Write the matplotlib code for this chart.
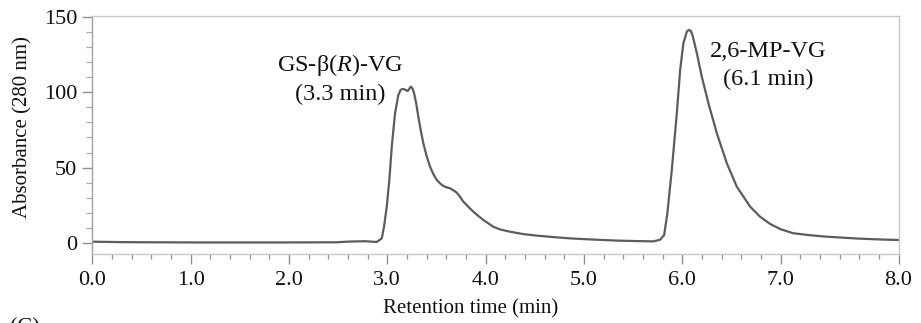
import matplotlib
matplotlib.use("Agg")
import matplotlib.pyplot as plt
from matplotlib.ticker import MultipleLocator, FixedLocator

plt.rcParams['font.family'] = ['Liberation Serif', 'DejaVu Serif']
plt.rcParams['mathtext.fontset'] = 'custom'
plt.rcParams['mathtext.rm'] = 'Liberation Serif'
plt.rcParams['mathtext.it'] = 'Liberation Serif:italic'

# Chromatogram
time_min = [0.0, 0.3, 0.587, 1.0, 1.5, 2.0, 2.489, 2.622, 2.774, 2.893, 2.944,
            2.967, 2.995, 3.021, 3.046, 3.079, 3.113, 3.135, 3.148, 3.164, 3.19,
            3.209, 3.225, 3.239, 3.255, 3.273, 3.295, 3.316, 3.34, 3.367, 3.40,
            3.435, 3.47, 3.504, 3.54, 3.571, 3.60, 3.639, 3.67, 3.707, 3.74,
            3.774, 3.826, 3.876, 3.93, 3.978, 4.079, 4.15, 4.250, 4.38, 4.521,
            4.7, 4.859, 5.0, 5.198, 5.35, 5.538, 5.707, 5.775, 5.816, 5.849,
            5.894, 5.945, 5.979, 6.012, 6.047, 6.062, 6.073, 6.088, 6.104, 6.149,
            6.199, 6.267, 6.352, 6.454, 6.555, 6.691, 6.792, 6.894, 7.0, 7.131,
            7.3, 7.471, 7.65, 7.810, 8.0, 8.2]
absorbance = [0.7, 0.4, 0.3, 0.2, 0.2, 0.2, 0.3, 0.8, 1.0, 0.5, 2.9,
              10.6, 24.0, 41.7, 63.9, 86.1, 98.3, 101.5, 102.1, 102.3, 101.5,
              100.9, 102.5, 103.8, 102.8, 99.4, 92.5, 83.8, 75.0, 66.1, 57.8,
              50.6, 45.5, 41.7, 39.3, 37.7, 36.9, 36.2, 35.0, 33.3, 30.6,
              27.3, 23.8, 20.6, 17.6, 15.1, 10.6, 8.8, 7.3, 5.8, 4.7,
              3.7, 2.9, 2.4, 1.8, 1.4, 1.1, 0.9, 2.0, 5.1, 19.6,
              48.4, 86.1, 114.9, 132.7, 140.4, 141.3, 141.5, 140.8, 138.2, 126.0,
              110.4, 92.7, 72.8, 52.8, 37.3, 24.0, 17.3, 12.5, 9.0, 6.3,
              5.0, 4.0, 3.3, 2.7, 2.2, 1.8]

xtick_pos = [0, 1, 2, 3, 4, 5, 6, 7, 8.2]
xtick_labels = ["0.0", "1.0", "2.0", "3.0", "4.0", "5.0", "6.0", "7.0", "8.0"]
ytick_pos = [0, 50, 100, 150]

peak_labels = [("GS-β($\\mathit{R}$)-VG", "(3.3 min)"), ("2,6-MP-VG", "(6.1 min)")]
label_x = [2.52, 6.87]
label_y1 = [114.0, 123.4]
label_y2 = [95.0, 105.0]

fig = plt.figure(figsize=(9.21, 3.23), dpi=100)
ax = fig.add_axes([0.1002, 0.2136, 0.8754, 0.7369])

ax.plot(time_min, absorbance, color='#5c5c5c', lw=1.6, solid_joinstyle='round')

ax.set_xlim(0, 8.2)
ax.set_ylim(-7.5, 150.8)

ax.xaxis.set_major_locator(FixedLocator(xtick_pos))
ax.set_xticklabels(xtick_labels)
ax.xaxis.set_minor_locator(MultipleLocator(0.2))
ax.yaxis.set_major_locator(FixedLocator(ytick_pos))
ax.yaxis.set_minor_locator(FixedLocator(list(range(0, 151, 10))))

for s in ax.spines.values():
    s.set_color('#c8c8c8')
    s.set_linewidth(1.0)
ax.spines['left'].set_color('#a0a0a0')

ax.tick_params(axis='both', which='major', direction='out', color='#909090',
               labelsize=16, labelcolor='#111111')
ax.tick_params(axis='x', which='major', length=7, width=1.0, pad=5)
ax.tick_params(axis='x', which='minor', length=3.5, width=0.9, color='#909090')
ax.tick_params(axis='y', which='major', length=7, width=1.0, pad=4)
ax.tick_params(axis='y', which='minor', length=4, width=0.9, color='#a8a8a8')

fig.text(471 / 921, 1 - 299 / 323, "Retention time (min)", ha='center', va='top',
         fontsize=15, color='#111111')
fig.text(23 / 921, 1 - 127 / 323, "Absorbance (280 nm)", ha='center', va='center',
         rotation=90, fontsize=15, color='#111111')

for (l1, l2), lx, y1, y2 in zip(peak_labels, label_x, label_y1, label_y2):
    ax.text(lx, y1, l1, ha='center', va='baseline', fontsize=17.5, color='#111111')
    ax.text(lx, y2, l2, ha='center', va='baseline', fontsize=17.5, color='#111111')

fig.text(10 / 921, 1 - 318 / 323, "(C)", ha='left', va='top', fontsize=16, color='#111111')

fig.savefig("out.png", dpi=100)
